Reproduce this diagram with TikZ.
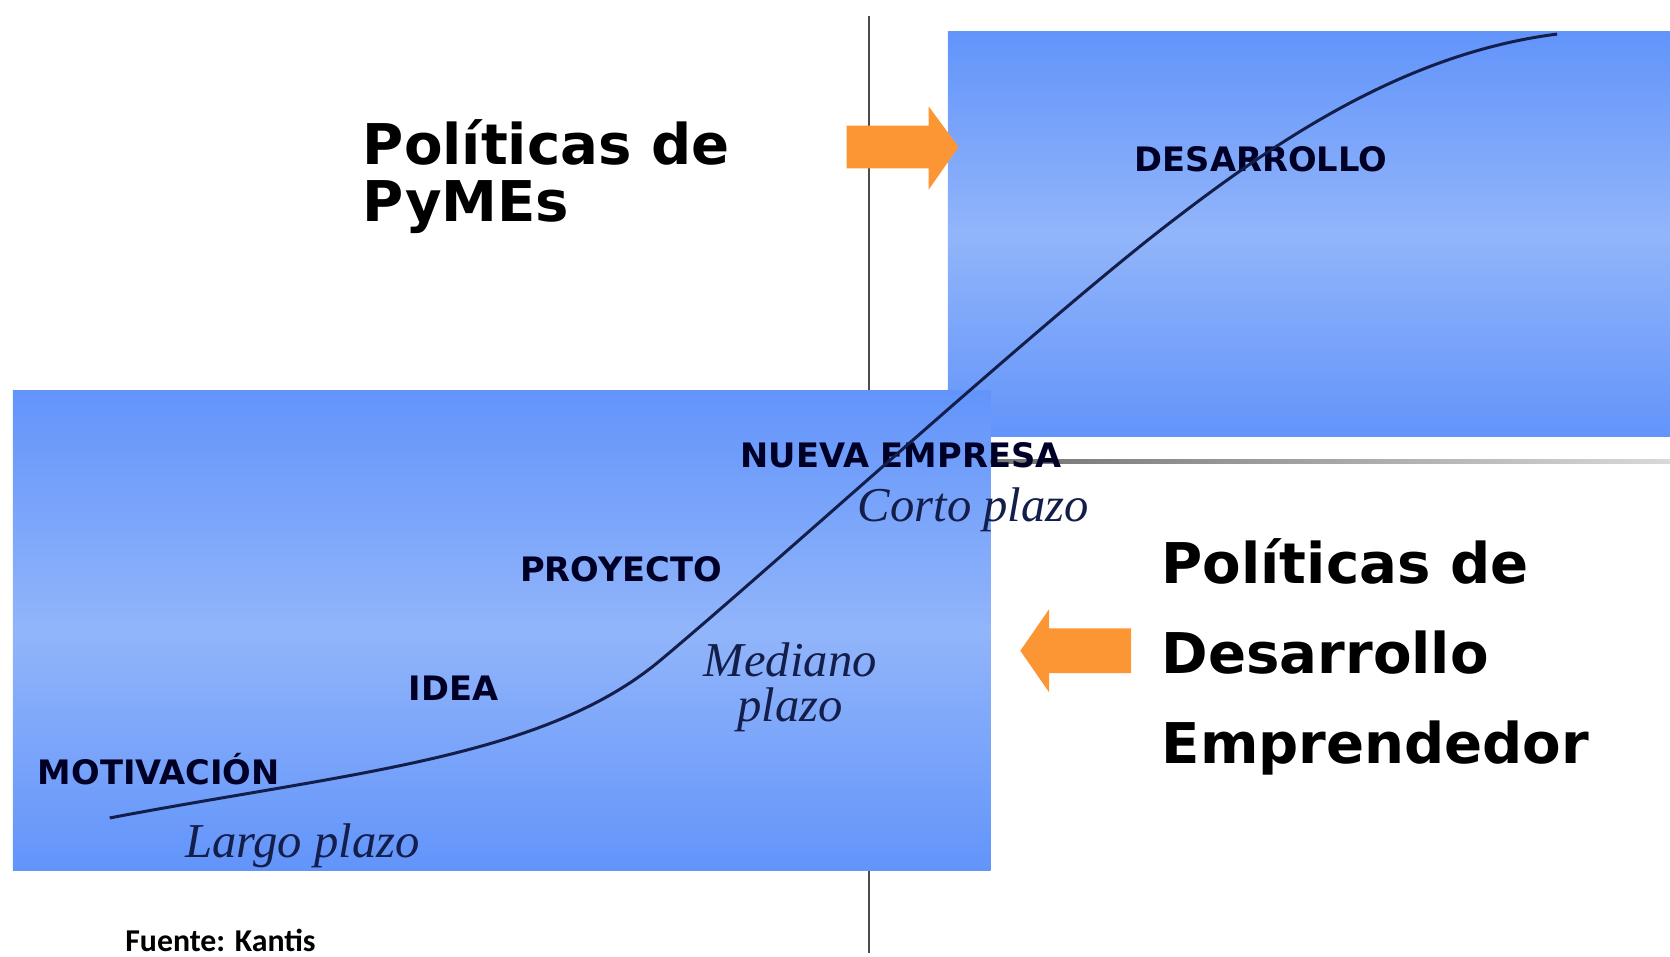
\documentclass[tikz,border=0pt]{standalone}
\usepackage{fontspec}
\setmainfont{DejaVu Sans}
\newfontfamily\plazofont{Liberation Serif}
\newfontfamily\fuentefont{Carlito}
\definecolor{azulborde}{RGB}{98,148,250}
\definecolor{azulmedio}{RGB}{146,181,250}
\definecolor{naranja}{RGB}{252,150,52}
\definecolor{curva}{RGB}{20,30,75}
\tikzset{
  caja/.style = {top color=azulborde, bottom color=azulborde,
                 middle color=azulmedio},
  flecha/.style = {fill=naranja},
  etapa/.style = {font=\bfseries\fontsize{9}{11}\selectfont,
                  text=black!85!blue, inner sep=0pt, anchor=base},
  plazo/.style = {font=\plazofont\itshape\fontsize{13}{12}\selectfont,
                  text=curva, inner sep=0pt, anchor=base},
  titulo/.style = {font=\bfseries\fontsize{15}{#1}\selectfont,
                   align=left, inner sep=0pt, anchor=north west}
}

\begin{document}
\begin{tikzpicture}[x=0.1mm, y=-0.1mm]
	\useasboundingbox (0,0) rectangle (1568,898);

	% Eje
	\draw[color=gray!60!black, line width=0.5pt] (816,15) -- (816,895);

	% Cajas
	\shade[caja] (890,30) rectangle (1568,410);
	\shade[caja] (12,367) rectangle (930,817);

	% Linea gris
	\shade[left color=gray!90!black, right color=gray!30] (930,431) rectangle (1568,435);

	% Flechas
	\fill[flecha] (795,118) -- (872,118) -- (872,100) -- (900,138) -- (872,178) -- (872,158) -- (795,158) -- cycle;
	\fill[flecha] (1062,590) -- (985,590) -- (985,572) -- (958,611) -- (985,650) -- (985,632) -- (1062,632) -- cycle;

	% Titulos
	\node[titulo=15] (pymes) at (340,112) {Políticas de\\PyMEs};
	\node[titulo=24] (emprendedor) at (1090,505) {Políticas de\\Desarrollo\\Emprendedor};

	% Etapas
	\node[etapa] (desarrollo) at (1184,161) {DESARROLLO};
	\node[etapa] (nueva) at (846,439) {NUEVA EMPRESA};
	\node[etapa] (proyecto) at (583,546) {PROYECTO};
	\node[etapa] (idea) at (426,658) {IDEA};
	\node[etapa] (motivacion) at (149,737) {MOTIVACIÓN};

	% Plazos
	\node[plazo] (corto) at (914,490) {Corto plazo};
	\node[plazo, align=center, anchor=center] (mediano) at (742,645) {Mediano\\plazo};
	\node[plazo] (largo) at (284,805) {Largo plazo};

	% Fuente
	\node[font=\fuentefont\bfseries\fontsize{8.5}{10}\selectfont, inner sep=0pt, anchor=base] (fuente) at (207,893) {Fuente: Kantis};

	% Curva
	\draw[curva, line width=0.8pt] (103,768) .. controls (330,725) and (510,712) .. (620,620)
		.. controls (730,528) and (980,300) .. (1100,208)
		.. controls (1200,131) and (1320,50) .. (1462,32);
\end{tikzpicture}
\end{document}
